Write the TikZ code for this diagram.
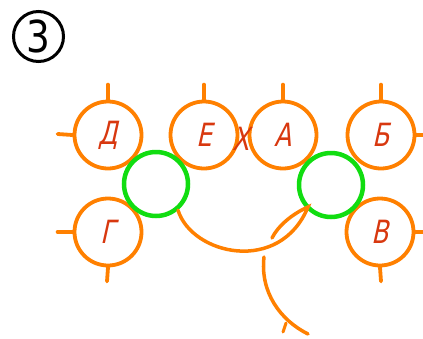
\documentclass[tikz,border=0pt]{standalone}
\usepackage{fontspec}
\newfontfamily\gost{DejaVu Sans}[FakeSlant=0.22,FakeStretch=0.78]
\newfontfamily\digitfont{DejaVu Sans}[FakeStretch=0.85]
\definecolor{orng}{HTML}{FF8000}
\definecolor{grn}{HTML}{11DD11}
\definecolor{ltr}{HTML}{D8380F}
\tikzset{
  ring/.style={circle, draw=orng, line width=3.8pt, minimum size=67pt, inner sep=0pt,
    text=ltr, font=\gost\fontsize{32}{32}\selectfont},
  gring/.style={circle, draw=grn, line width=4.5pt, minimum size=64pt, inner sep=0pt},
  tick/.style={draw=orng, line width=3.8pt, line cap=round},
  arcline/.style={draw=orng, line width=3.5pt, line cap=round},
  lbl/.style={text=ltr, font=\gost\fontsize{32}{32}\selectfont, inner sep=0pt}
}
\begin{document}
\begin{tikzpicture}[x=1pt,y=-1pt]
\useasboundingbox (0,0) rectangle (423,338);
\fill[white] (0,0) rectangle (423,338);
% circled number
\node[circle, draw=black, line width=3pt, minimum size=50pt, inner sep=0pt,
  font=\digitfont\fontsize{44}{44}\selectfont] (num) at (38.5,36.5) {3};
% orange rings
\node[ring] (D) at (108,135) {Д};
\node[ring] (E) at (204,135) {Е};
\node[ring] (A) at (283,135) {А};
\node[ring] (B) at (381,135) {Б};
\node[ring] (G) at (108,232) {Г};
\node[ring] (V) at (380,232) {В};
\node[lbl] (X) at (241,139) {Х};
% ticks
\draw[tick] (D.north) -- ++(0,-15);
\draw[tick] (D.west) -- ++(-15,-1);
\draw[tick] (E.north) -- ++(0,-15);
\draw[tick] (A.north) -- ++(0,-15);
\draw[tick] (B.north) -- ++(0,-15);
\draw[tick] (B.east) -- ++(10,0);
\draw[tick] (G.west) -- ++(-15,0);
\draw[tick] (G.south) -- ++(-1,14);
\draw[tick] (V.east) -- ++(10,0);
\draw[tick] (V.south) -- ++(1,14);
% green rings
\node[gring] (L) at (156,184) {};
\node[gring] (R) at (331,185) {};
% arcs
\coordinate (tip) at (308,207);
\coordinate (inner) at (272,238);
\coordinate (low1) at (264,257);
\coordinate (low2) at (308,334);
\draw[arcline] (L.-50) .. controls (192,255) and (280,275) .. (tip)
  .. controls (292,214) and (278,226) .. (inner);
\draw[arcline] (low1) .. controls (260,292) and (280,320) .. (low2);
\coordinate (t1) at (286,323);
\draw[tick, line width=3pt] (t1) -- ++(-3,9);
\end{tikzpicture}
\end{document}
